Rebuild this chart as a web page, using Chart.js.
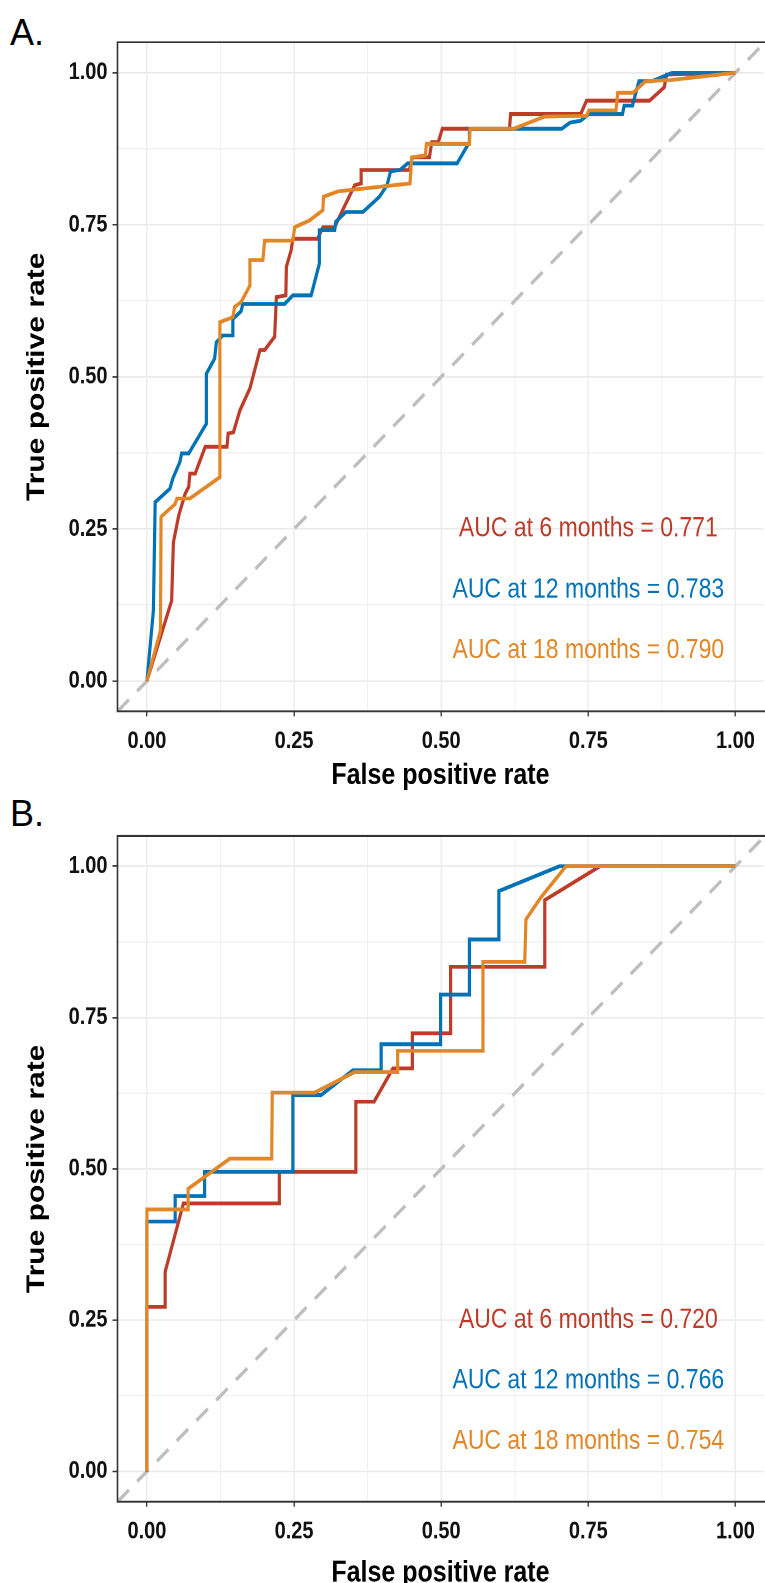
<!DOCTYPE html>
<html>
<head>
<meta charset="utf-8">
<script src="https://cdn.jsdelivr.net/npm/chart.js@4.4.0/dist/chart.umd.min.js"></script>
<style>
html,body{margin:0;padding:0;background:#fff;width:765px;height:1583px;overflow:hidden;position:relative;}
/* the reference figure is a ggplot stretched vertically by ~1.2; reproduce that stretch */
.panel{position:absolute;left:0;width:765px;transform-origin:0 0;transform:scaleY(1.2);}
.lbl{position:absolute;left:10px;font-family:"Liberation Sans",Arial,sans-serif;font-size:36px;line-height:1;color:#000;}
</style>
</head>
<body>
<div class="lbl" style="top:15px">A.</div>
<div class="panel" style="top:0;height:660px"><canvas id="cA"></canvas></div>
<div class="lbl" style="top:796px">B.</div>
<div class="panel" style="top:792px;height:659.17px"><canvas id="cB"></canvas></div>
<script>
// ---------- data ----------
const gridValues = [0, 0.125, 0.25, 0.375, 0.5, 0.625, 0.75, 0.875, 1];
const seriesNames = ["6 months", "12 months", "18 months"];

// Panel A
const fprA6  = [0,0.042,0.045,0.054,0.065,0.071,0.073,0.082,0.099,0.136,0.138,0.147,0.158,0.175,0.192,0.2,0.217,0.22,0.236,0.237,0.245,0.248,0.29,0.299,0.319,0.327,0.353,0.364,0.364,0.446,0.451,0.48,0.484,0.495,0.502,0.616,0.618,0.737,0.747,0.854,0.879,0.883,1];
const tprA6  = [0,0.132,0.228,0.272,0.308,0.319,0.341,0.341,0.385,0.385,0.407,0.409,0.445,0.481,0.544,0.544,0.566,0.631,0.634,0.681,0.708,0.727,0.727,0.746,0.746,0.763,0.815,0.818,0.84,0.84,0.861,0.861,0.886,0.886,0.908,0.908,0.932,0.932,0.954,0.954,0.976,0.997,1];
const fprA12 = [0,0.011,0.014,0.039,0.044,0.056,0.059,0.071,0.101,0.101,0.115,0.118,0.129,0.146,0.146,0.16,0.163,0.234,0.248,0.279,0.293,0.293,0.319,0.321,0.338,0.367,0.395,0.408,0.414,0.43,0.443,0.527,0.548,0.548,0.705,0.719,0.737,0.751,0.808,0.811,0.825,0.836,0.858,0.893,1];
const tprA12 = [0,0.116,0.294,0.316,0.333,0.36,0.374,0.374,0.423,0.505,0.53,0.557,0.568,0.568,0.595,0.608,0.62,0.62,0.634,0.634,0.686,0.741,0.741,0.755,0.771,0.771,0.796,0.815,0.838,0.84,0.851,0.851,0.886,0.908,0.908,0.918,0.921,0.932,0.932,0.946,0.946,0.986,0.986,1,1];
const fprA18 = [0,0.023,0.024,0.048,0.051,0.073,0.124,0.124,0.146,0.149,0.16,0.175,0.175,0.197,0.2,0.248,0.251,0.276,0.299,0.3,0.325,0.447,0.45,0.473,0.475,0.548,0.549,0.623,0.676,0.747,0.751,0.797,0.8,0.826,0.847,0.89,1];
const tprA18 = [0,0.083,0.27,0.291,0.3,0.3,0.335,0.59,0.598,0.615,0.623,0.65,0.692,0.692,0.724,0.724,0.746,0.757,0.774,0.796,0.805,0.818,0.861,0.864,0.883,0.883,0.908,0.908,0.928,0.929,0.938,0.938,0.967,0.967,0.986,0.988,1];
const aucA = ["0.771", "0.783", "0.790"];

// Panel B
const fprB6  = [0,0,0.031,0.031,0.062,0.225,0.225,0.355,0.355,0.386,0.418,0.451,0.451,0.516,0.516,0.676,0.676,0.77,1];
const tprB6  = [0,0.272,0.272,0.33,0.443,0.443,0.495,0.495,0.611,0.611,0.666,0.666,0.724,0.724,0.834,0.834,0.944,1,1];
const fprB12 = [0,0,0.048,0.048,0.098,0.098,0.248,0.248,0.296,0.35,0.398,0.398,0.499,0.499,0.548,0.548,0.598,0.598,0.701,1];
const tprB12 = [0,0.413,0.413,0.455,0.455,0.495,0.495,0.622,0.622,0.663,0.663,0.706,0.706,0.788,0.788,0.879,0.879,0.959,1,1];
const fprB18 = [0,0,0.07,0.07,0.141,0.212,0.213,0.285,0.353,0.426,0.426,0.571,0.571,0.642,0.644,0.669,0.712,1];
const tprB18 = [0,0.433,0.433,0.467,0.517,0.517,0.626,0.626,0.66,0.66,0.695,0.695,0.842,0.842,0.912,0.948,1,1];
const aucB = ["0.720", "0.766", "0.754"];

// annotation anchors (data coordinates)
const aucX = 0.75;
const aucY = [0.25, 0.15, 0.05];

// ---------- styling ----------
const FONT = '"Liberation Sans", Arial, Helvetica, sans-serif';
Chart.defaults.font.family = FONT;
const COLORS = ["#BC3C29", "#0072B5", "#E18727"];
const S = 1.2; // vertical stretch of the reference

const isMajor = v => Math.abs(v * 4 - Math.round(v * 4)) < 1e-6;
const toPts = (xs, ys) => xs.map((x, i) => ({x: x, y: ys[i]}));

const decor = {
  id: 'decor',
  afterDatasetsDraw(chart, args, opts) {
    const {ctx, chartArea: a, scales: {x, y}} = chart;
    ctx.save();
    // panel border (right side lies outside the picture)
    ctx.strokeStyle = '#333333';
    ctx.lineWidth = 1.6;
    ctx.beginPath();
    ctx.moveTo(a.right + 2, a.top);
    ctx.lineTo(a.left, a.top);
    ctx.lineTo(a.left, a.bottom);
    ctx.lineTo(a.right + 2, a.bottom);
    ctx.stroke();
    // AUC annotations
    ctx.font = '23px ' + FONT;
    ctx.textAlign = 'center';
    ctx.textBaseline = 'middle';
    opts.auc.forEach((v, i) => {
      ctx.fillStyle = COLORS[i];
      ctx.fillText('AUC at ' + seriesNames[i] + ' = ' + v, x.getPixelForValue(aucX), y.getPixelForValue(aucY[i]));
    });
    ctx.restore();
  }
};

function axis(kind, max, fitSize, titleText, titlePad, tickPad) {
  return {
    type: 'linear',
    min: -0.05,
    max: max,
    afterBuildTicks: s => { s.ticks = gridValues.map(v => ({value: v})); },
    afterFit: s => { if (kind === 'x') s.height = fitSize; else s.width = fitSize; },
    border: {display: false},
    grid: {
      color: '#EBEBEB',
      lineWidth: c => (c.tick && isMajor(c.tick.value)) ? 1.4 : 0.75,
      drawTicks: true,
      tickLength: kind === 'x' ? 5 / S : 5,
      tickWidth: 1.3,
      tickColor: c => (c.tick && isMajor(c.tick.value)) ? '#333333' : 'rgba(0,0,0,0)'
    },
    ticks: {
      autoSkip: false,
      maxRotation: 0,
      minRotation: 0,
      padding: tickPad,
      color: '#111111',
      font: {size: 20, weight: 'bold'},
      callback: v => isMajor(v) ? Number(v).toFixed(2) : ''
    },
    title: {
      display: true,
      text: titleText,
      color: '#000000',
      font: {size: 25, weight: 'bold', lineHeight: 1},
      padding: titlePad
    }
  };
}

function makeChart(id, series, auc, g) {
  const datasets = [];
  // orange on top, then blue, red, diagonal underneath
  series.forEach((s, i) => {
    datasets.push({
      label: seriesNames[i],
      data: toPts(s[0], s[1]),
      showLine: true,
      borderColor: COLORS[i],
      backgroundColor: COLORS[i],
      borderWidth: 3.2,
      pointRadius: 0,
      tension: 0,
      fill: false,
      order: 2 - i
    });
  });
  datasets.push({
    label: 'chance',
    data: [{x: -0.05, y: -0.05}, {x: 1.1, y: 1.1}],
    showLine: true,
    borderColor: '#BEBEBE',
    borderWidth: 3,
    borderDash: [15, 11],
    pointRadius: 0,
    fill: false,
    order: 3
  });
  // geometry below is in visual pixels, converted to the unstretched canvas
  const H = g.h / S;
  const top = g.top / S;
  const bottom = g.bottom / S;
  const titleCenter = g.title / S;
  return new Chart(document.getElementById(id), {
    type: 'scatter',
    data: {datasets: datasets},
    options: {
      responsive: true,
      maintainAspectRatio: false,
      animation: false,
      events: [],
      devicePixelRatio: 2,
      layout: {padding: {top: top, left: 0, right: 0, bottom: 0}},
      plugins: {legend: {display: false}, tooltip: {enabled: false}, decor: {auc: auc}},
      scales: {
        x: axis('x', 1.0475, H - bottom, 'False positive rate', {top: 0, bottom: (H - titleCenter) - 12.5}, 9),
        y: axis('y', 1.05, 117.5, 'True positive rate', {top: 37 - 12.5, bottom: 0}, 5)
      }
    },
    plugins: [decor]
  });
}

makeChart('cA', [[fprA6, tprA6], [fprA12, tprA12], [fprA18, tprA18]], aucA, {h: 792, top: 42.3, bottom: 711.4, title: 776});
makeChart('cB', [[fprB6, tprB6], [fprB12, tprB12], [fprB18, tprB18]], aucB, {h: 791, top: 44, bottom: 709.7, title: 781});
</script>
</body>
</html>
